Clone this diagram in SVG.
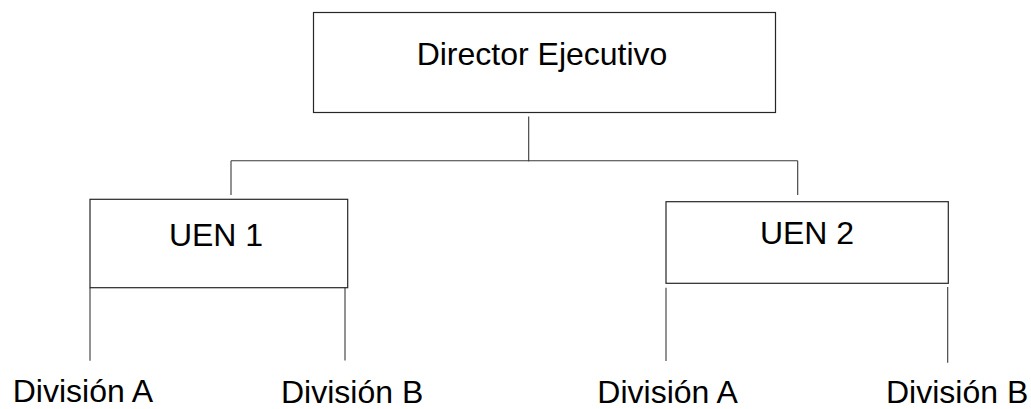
<svg xmlns="http://www.w3.org/2000/svg" width="1031" height="409" viewBox="0 0 1031 409">
<style>
.box{fill:#fff;stroke:#262626;stroke-width:1.2}
.ln{fill:none;stroke:#3a3a3a;stroke-width:1.1}
.t{font-family:"Liberation Sans",Arial,sans-serif;font-size:32px;fill:#000}
</style>
<rect width="1031" height="409" fill="#fff"/>
<g id="connectors">
<path class="ln" d="M528.7,116.5V161.5M231,160.7H797.7M231,160.7V195M797.7,160.7V195"/>
<path class="ln" d="M90,287.7V360.7M345,283V360.5M666,287.7V361M947.7,287V362.7"/>
</g>
<g id="director">
<rect class="box" x="313.5" y="12.5" width="462" height="100"/>
<text class="t" x="542" y="65" text-anchor="middle" font-size="33.2">Director Ejecutivo</text>
</g>
<g id="uen1">
<rect class="box" x="90" y="199.3" width="257.7" height="88.4"/>
<text class="t" x="216" y="246" text-anchor="middle" font-size="31.5">UEN 1</text>
</g>
<g id="uen2">
<rect class="box" x="666" y="201.7" width="282.3" height="81.6"/>
<text class="t" x="807" y="244" text-anchor="middle" font-size="31.5">UEN 2</text>
</g>
<g id="div1a"><text class="t" x="12.7" y="402">División A</text></g>
<g id="div1b"><text class="t" x="281" y="403">División B</text></g>
<g id="div2a"><text class="t" x="597.3" y="403.3">División A</text></g>
<g id="div2b"><text class="t" x="886" y="403.3">División B</text></g>
</svg>
